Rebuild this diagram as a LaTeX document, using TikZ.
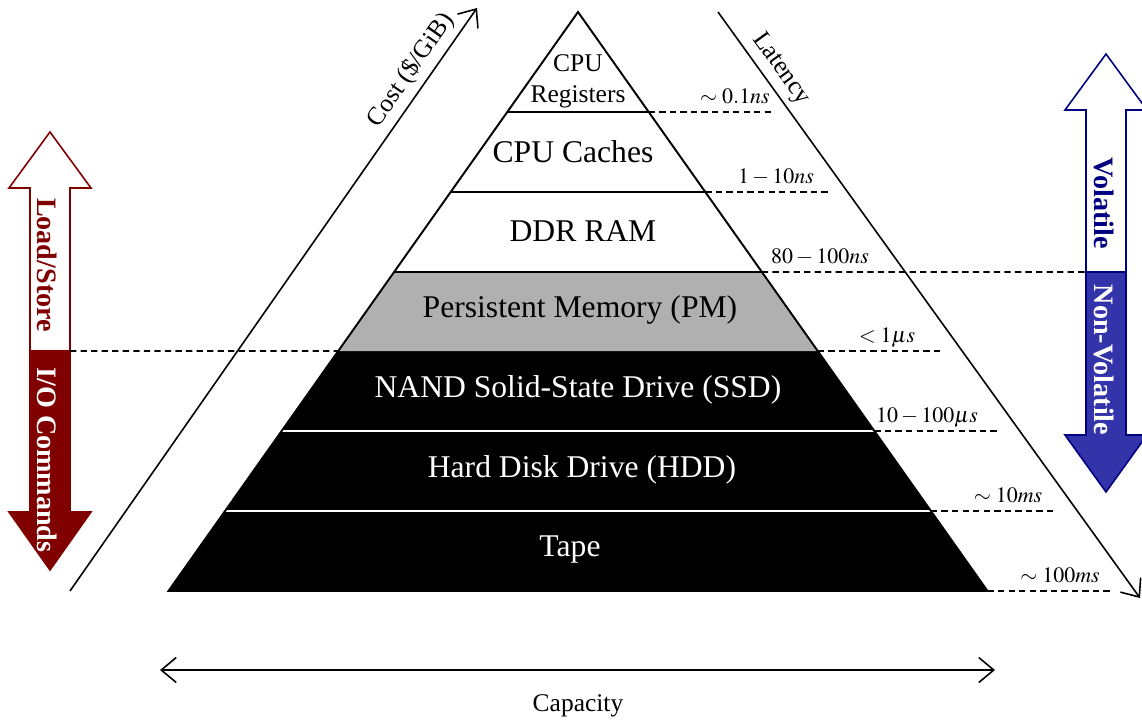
\documentclass[tikz,border=0pt]{standalone}
\usepackage{mathptmx}
\usepackage{fontspec}
\setmainfont{Liberation Serif}
\usetikzlibrary{calc,arrows.meta}

\definecolor{pmgray}{RGB}{176,176,176}
\definecolor{ioRed}{RGB}{128,0,0}
\definecolor{nvBlue}{RGB}{51,51,170}
\definecolor{nvNavy}{RGB}{0,0,128}

\tikzset{
    layer/.style={font=\fontsize{18}{21}\selectfont},
    darklayer/.style={layer, text=white},
    lat/.style={anchor=base, inner sep=0pt, font=\fontsize{12.5}{15}\selectfont},
    lvl/.style={dash pattern=on 3.6pt off 2.4pt, line width=0.9pt},
    axis/.style={line width=0.9pt, -{Straight Barb[length=3mm,width=5mm]}},
    axislabel/.style={font=\fontsize{14.5}{17}\selectfont},
    tag/.style={rotate=-90, font=\bfseries\fontsize{16}{19}\selectfont}
}

\begin{document}
\begin{tikzpicture}
    \useasboundingbox (-11.56,-2.6) rectangle (11.28,11.82);

    % Pyramid
    \coordinate (Apex) at (0,11.58);
    \coordinate (BL) at (-8.19,0);
    \coordinate (BR) at (8.19,0);
    \foreach \h [count=\i] in {1.6,3.2,4.8,6.38,7.98,9.58} {
        \coordinate (L\i) at ($(BL)!\h/11.58!(Apex)$);
        \coordinate (R\i) at ($(BR)!\h/11.58!(Apex)$);
    }
    \fill (BL) -- (Apex) -- (BR) -- cycle;
    \fill[pmgray] (L3) -- (Apex) -- (R3) -- cycle;
    \fill[white] (L4) -- (Apex) -- (R4) -- cycle;
    \draw[white, line width=0.9pt] (L1) -- (R1);
    \draw[white, line width=0.9pt] (L2) -- (R2);
    \draw[line width=0.9pt] (L4) -- (R4);
    \draw[line width=0.9pt] (L5) -- (R5);
    \draw[line width=0.9pt] (L6) -- (R6);
    \draw[line width=1.1pt] (BL) -- (Apex) -- (BR) -- cycle;

    % Layers
    \node[align=center, font=\fontsize{14.5}{17.6}\selectfont] (regs) at (0,10.2) {CPU\\Registers};
    \node[layer] (caches) at (-0.1,8.78) {CPU Caches};
    \node[layer] (ddr) at (0.1,7.2) {DDR RAM};
    \node[layer] (pm) at (0.04,5.62) {Persistent Memory (PM)};
    \node[darklayer] (ssd) at (0,4.03) {NAND Solid-State Drive (SSD)};
    \node[darklayer] (hdd) at (0.08,2.43) {Hard Disk Drive (HDD)};
    \node[darklayer] (tape) at (-0.16,0.83) {Tape};

    % Latency levels
    \draw[lvl] (R6) -- ++(2.5,0) coordinate (E6);
    \draw[lvl] (R5) -- ++(2.5,0) coordinate (E5);
    \draw[lvl] (R3) -- ++(2.5,0) coordinate (E3);
    \draw[lvl] (R2) -- ++(2.52,0) coordinate (E2);
    \draw[lvl] (R1) -- ++(2.52,0) coordinate (E1);
    \draw[lvl] (BR) -- ++(2.5,0) coordinate (E0);
    \node[lat] (t6) at (3.14,9.76) {$\sim 0.1ns$};
    \node[lat] (t5) at (3.96,8.16) {$1-10ns$};
    \node[lat] (t4) at (4.84,6.56) {$80-100ns$};
    \node[lat] (t3) at (6.18,4.98) {$<1\mu s$};
    \node[lat] (t2) at (6.98,3.38) {$10-100\mu s$};
    \node[lat] (t1) at (8.6,1.78) {$\sim 10ms$};
    \node[lat] (t0) at (9.64,0.18) {$\sim 100ms$};

    % Cost and latency axes
    \coordinate (c0) at (-10.16,0);
    \coordinate (c1) at (-2.02,11.66);
    \draw[axis] (c0) -- (c1)
        node[pos=0.875, above=0pt, sloped, axislabel] (cost) {Cost (\$/GiB)};
    \coordinate (l0) at (2.8,11.58);
    \coordinate (l1) at (11.24,-0.14);
    \draw[axis] (l0) -- (l1)
        node[pos=0.115, above=0pt, sloped, axislabel] (lat) {Latency};

    % Capacity
    \coordinate (k0) at (-8.36,-1.58);
    \coordinate (k1) at (8.34,-1.58);
    \draw[axis, {Straight Barb[length=3mm,width=5mm]}-{Straight Barb[length=3mm,width=5mm]}] (k0) -- (k1);
    \node[axislabel] (cap) at (0,-2.3) {Capacity};

    % Load/Store vs I/O
    \begin{scope}[xshift=-10.56cm]
        \draw[ioRed, fill=white, line width=0.9pt] (-0.4,4.8) -- (-0.4,8.06) -- (-0.82,8.06) -- (0,9.18)
            -- (0.82,8.06) -- (0.4,8.06) -- (0.4,4.8) -- cycle;
        \draw[ioRed, fill=ioRed, line width=0.9pt] (-0.4,4.8) -- (-0.4,1.58) -- (-0.82,1.58) -- (0,0.42)
            -- (0.82,1.58) -- (0.4,1.58) -- (0.4,4.8) -- cycle;
        \coordinate (ioSplit) at (0.4,4.8);
        \node[tag, text=ioRed] (ls) at (-0.06,6.52) {Load/Store};
        \node[tag, text=white] (io) at (-0.06,2.62) {I/O Commands};
    \end{scope}
    \draw[lvl] (ioSplit) -- (L3);

    % Volatile vs Non-Volatile
    \begin{scope}[xshift=10.56cm]
        \draw[nvNavy, fill=white, line width=0.9pt] (-0.4,6.38) -- (-0.4,9.62) -- (-0.82,9.62) -- (0,10.74)
            -- (0.82,9.62) -- (0.4,9.62) -- (0.4,6.38) -- cycle;
        \draw[nvNavy, fill=nvBlue, line width=0.9pt] (-0.4,6.38) -- (-0.4,3.12) -- (-0.82,3.12) -- (0,1.98)
            -- (0.82,3.12) -- (0.4,3.12) -- (0.4,6.38) -- cycle;
        \coordinate (nvSplit) at (-0.4,6.38);
        \node[tag, text=nvNavy] (vol) at (-0.04,7.76) {Volatile};
        \node[tag, text=white] (nvol) at (-0.04,4.62) {Non-Volatile};
    \end{scope}
    \draw[lvl] (R4) -- (nvSplit);

\end{tikzpicture}
\end{document}
